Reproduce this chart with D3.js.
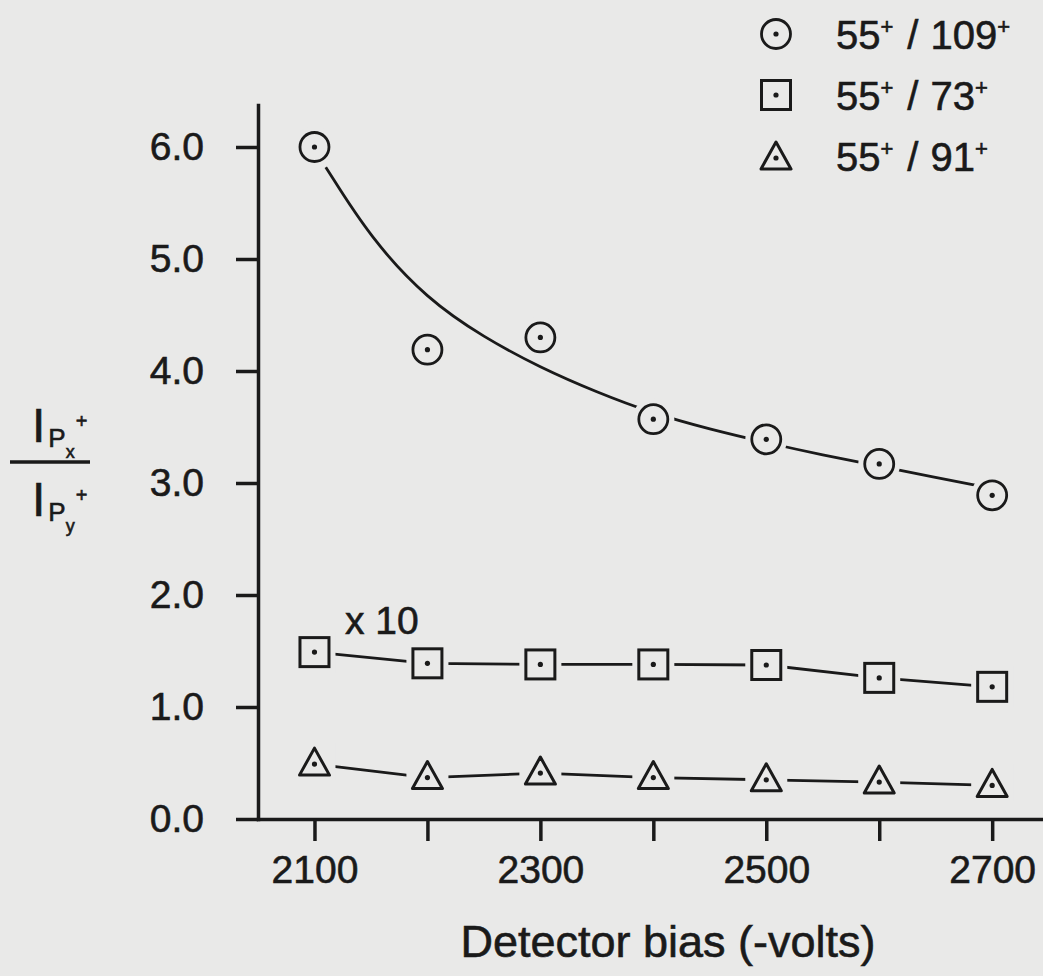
<!DOCTYPE html>
<meta charset="utf-8">
<style>
  body { margin: 0; background: #e9e9e8; }
  svg { display: block; background: #e9e9e8; }
  text { font-family: "Liberation Sans", Arial, sans-serif; fill: #1a1a1a; stroke: #1a1a1a; stroke-width: 0.6px; }
  .axis path, .axis line { stroke: #1a1a1a; stroke-width: 3.5px; }
  .axis text { font-size: 39px; font-family: "Liberation Sans", Arial, sans-serif; fill: #1a1a1a; stroke: #1a1a1a; stroke-width: 0.6px; }
  .series { fill: none; stroke: #1a1a1a; stroke-width: 2.8px; }
</style>
<body>
<svg width="1043" height="976"></svg>
<script src="https://cdn.jsdelivr.net/npm/d3@7"></script>
<script>
  // detector bias (-volts)
  const biasVolts = [2100, 2200, 2300, 2400, 2500, 2600, 2700];
  // ion current ratios
  const ratio109 = [6.0, 4.19, 4.30, 3.57, 3.39, 3.17, 2.89];
  const ratio73 = [1.49, 1.39, 1.38, 1.38, 1.375, 1.26, 1.18];   // x 10
  const ratio91 = [0.49, 0.37, 0.41, 0.37, 0.35, 0.33, 0.30];
  // hand-drawn fit through the 55+/109+ points
  const fitBias = [2110, 2150, 2200, 2250, 2300, 2350, 2400, 2450, 2500, 2550, 2600, 2650, 2685];
  const fitRatio = [5.82, 5.18, 4.64, 4.30, 4.03, 3.81, 3.62, 3.48, 3.36, 3.25, 3.15, 3.05, 2.98];
  const yTicks = [0, 1, 2, 3, 4, 5, 6];
  const labelledBias = [2100, 2300, 2500, 2700];
  const legendLabels = [["55", "109"], ["55", "73"], ["55", "91"]];

  const bg = "#e9e9e8";
  const ink = "#1a1a1a";
  const svg = d3.select("svg");

  const x = d3.scaleLinear().domain([2050, 2745]).range([258, 1043]);
  const y = d3.scaleLinear().domain([0, 6.375]).range([819, 105]);

  svg.append("g")
      .attr("class", "axis axis--x")
      .attr("transform", `translate(0,${y(0)})`)
      .call(d3.axisBottom(x)
        .tickValues(biasVolts)
        .tickSize(22).tickSizeOuter(0).tickPadding(14)
        .tickFormat(d => labelledBias.includes(d) ? d : ""));

  svg.append("g")
      .attr("class", "axis axis--y")
      .attr("transform", `translate(${x(2050)},0)`)
      .call(d3.axisLeft(y)
        .tickValues(yTicks)
        .tickSize(22).tickSizeOuter(0).tickPadding(32)
        .tickFormat(d3.format(".1f")));

  svg.selectAll(".axis .domain").attr("stroke-linecap", "square");

  // series lines
  const line = d3.line().x(d => x(d[0])).y(d => y(d[1]));
  const fitLine = d3.line().x(d => x(d[0])).y(d => y(d[1])).curve(d3.curveBasis);

  svg.append("path").attr("class", "series")
      .attr("d", fitLine(d3.zip(fitBias, fitRatio)));
  svg.append("path").attr("class", "series")
      .attr("d", line(d3.zip(biasVolts, ratio73)));
  svg.append("path").attr("class", "series")
      .attr("d", line(d3.zip(biasVolts, ratio91)));

  // marker shapes
  function drawMarker(g, kind, cx, cy) {
    const m = g.append("g").attr("transform", `translate(${cx},${cy})`);
    if (kind === "circle") {
      m.append("circle").attr("r", 21).attr("fill", bg);
      m.append("circle").attr("r", 14.5).attr("fill", "none").attr("stroke", ink).attr("stroke-width", 2.8);
    } else if (kind === "square") {
      m.append("rect").attr("x", -21).attr("y", -21).attr("width", 42).attr("height", 42).attr("fill", bg);
      m.append("rect").attr("x", -14.5).attr("y", -14.5).attr("width", 29).attr("height", 29)
          .attr("fill", "none").attr("stroke", ink).attr("stroke-width", 3);
    } else {
      m.append("rect").attr("x", -21).attr("y", -22).attr("width", 42).attr("height", 38).attr("fill", bg);
      m.append("path").attr("d", "M0,-16 L15,11 L-15,11 Z")
          .attr("fill", "none").attr("stroke", ink).attr("stroke-width", 3).attr("stroke-linejoin", "round");
    }
    m.append("circle").attr("r", 2.6).attr("fill", ink);
  }

  const marks = svg.append("g");
  biasVolts.forEach((b, i) => {
    drawMarker(marks, "circle", x(b), y(ratio109[i]));
    drawMarker(marks, "square", x(b), y(ratio73[i]));
    drawMarker(marks, "triangle", x(b), y(ratio91[i]));
  });

  svg.append("text").attr("x", 345).attr("y", 634)
      .attr("font-size", 39).text("x 10");

  // legend
  const legend = svg.append("g");
  ["circle", "square", "triangle"].forEach((k, i) => {
    const cy = 34 + i * 61;
    drawMarker(legend, k, 776, cy + (k === "triangle" ? 2 : 0));
    const t = legend.append("text").attr("x", 836).attr("y", cy + 15).attr("font-size", 40);
    t.append("tspan").text(legendLabels[i][0]);
    t.append("tspan").attr("font-size", 22).attr("dy", -15).text("+");
    t.append("tspan").attr("dy", 15).attr("dx", 14).text("/");
    t.append("tspan").attr("dx", 12).text(legendLabels[i][1]);
    t.append("tspan").attr("font-size", 22).attr("dy", -15).text("+");
  });

  // y label as a fraction
  const yl = svg.append("g");
  yl.append("line").attr("x1", 10).attr("x2", 90).attr("y1", 462).attr("y2", 462)
      .attr("stroke", ink).attr("stroke-width", 3.5);
  function ylTerm(yBase, sub) {
    const t = yl.append("text").attr("x", 32).attr("y", yBase).attr("font-size", 48);
    t.append("tspan").text("I");
    t.append("tspan").attr("font-size", 26).attr("dy", 5).attr("dx", 3).text("P");
    t.append("tspan").attr("font-size", 18).attr("dy", 11).text(sub);
    t.append("tspan").attr("font-size", 20).attr("dy", -30).attr("dx", 1).text("+");
  }
  ylTerm(442, "x");
  ylTerm(516, "y");

  svg.append("text").attr("x", 668).attr("y", 957)
      .attr("text-anchor", "middle").attr("font-size", 45)
      .text("Detector bias (-volts)");
</script>
</body>
